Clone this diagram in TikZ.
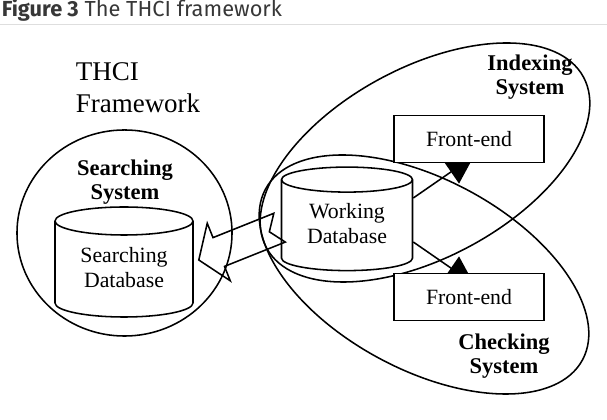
\documentclass[tikz,border=0pt]{standalone}
\usepackage{fontspec}
\setmainfont{Liberation Serif}
\newfontfamily\capfont{Fira Sans}
\usetikzlibrary{arrows.meta,positioning,shapes.geometric,calc}
\definecolor{thciRule}{RGB}{222,222,222}
\definecolor{thciCaption}{RGB}{55,55,55}

\begin{document}
\begin{tikzpicture}[
  x=0.025cm, y=0.025cm,
  line width=1.1pt,
  sysbound/.style={draw, ellipse, inner sep=0pt},
  syslabel/.style={align=center, inner sep=0pt, font=\fontsize{16}{17}\selectfont\bfseries},
  dblabel/.style={align=center, inner sep=0pt, font=\fontsize{15.5}{17.8}\selectfont},
  frontbox/.style={
    draw,
    fill=white,
    minimum width=3.75cm,
    minimum height=1.175cm,
    inner sep=0pt,
    font=\fontsize{15.5}{17.8}\selectfont
  },
  feed/.style={-{Triangle[length=0.7cm,width=0.7cm]}}
]
  \useasboundingbox (0,0) rectangle (607,420);

  % caption and rule
  \node[anchor=base west, inner sep=0pt, text=thciCaption,
        font=\capfont\fontsize{15.5}{18}\selectfont] (caption) at (1,403)
        {\textbf{Figure 3} The THCI framework};
  \draw[thciRule, line width=1pt] (0,395.5) -- (607,395.5);

  \node[anchor=west, align=left, inner sep=0pt,
        font=\fontsize{19.2}{22.8}\selectfont] (title) at (75,332) {THCI\\Framework};

  % the three systems
  \node[sysbound, minimum width=5.375cm, minimum height=5.15cm] (srchsys) at (124.5,187) {};
  \node[sysbound, minimum width=9cm, minimum height=4.75cm, rotate=28.3] (idxsys) at (425,257.5) {};
  \node[sysbound, minimum width=9cm, minimum height=4.75cm, rotate=-28.3] (chksys) at (424,145.5) {};

  % databases
  \coordinate (srchc) at (124,152);
  \draw[fill=white] ($(srchc)+(-69,47)$) -- ++(0,-82)
    arc[start angle=180, end angle=360, x radius=69, y radius=14] -- ++(0,82)
    arc[start angle=0, end angle=180, x radius=69, y radius=14] -- cycle;
  \draw ($(srchc)+(-69,47)$) arc[start angle=180, end angle=360, x radius=69, y radius=14];
  \node[dblabel, minimum width=3.45cm] (srchdb) at (srchc) {Searching\\Database};

  \coordinate (workc) at (347,196.4);
  \draw[fill=white] ($(workc)+(-65.5,44)$) -- ++(0,-78.5)
    arc[start angle=180, end angle=360, x radius=65.5, y radius=12.5] -- ++(0,78.5)
    arc[start angle=0, end angle=180, x radius=65.5, y radius=12.5] -- cycle;
  \draw ($(workc)+(-65.5,44)$) arc[start angle=180, end angle=360, x radius=65.5, y radius=12.5];
  \node[dblabel, minimum width=3.275cm] (workdb) at (workc) {Working\\Database};

  \node[syslabel] (srchlbl) at (125,238) {Searching\\System};
  \node[syslabel] (idxlbl) at (530,342.6) {Indexing\\System};
  \node[syslabel] (chklbl) at (504,64.1) {Checking\\System};

  % copy to the searching database
  \begin{scope}[shift={($(srchdb.east)+(5,8)$)}, rotate=21.8]
    \draw[line join=miter] (0,0) -- (21.5,31) -- (21.5,15.5) -- (87,15.5) -- (76,0)
      -- (87,-15.5) -- (21.5,-15.5) -- (21.5,-31) -- cycle;
  \end{scope}

  \coordinate (idxin) at (474,264);
  \coordinate (chkin) at (474,136);
  \draw[feed] ($(workdb.east)+(0,25.6)$) -- (idxin);
  \draw[feed] ($(workdb.east)+(0,-18.4)$) -- (chkin);

  \node[frontbox] (feidx) at (469,281) {Front-end};
  \node[frontbox] (fechk) at (469,123) {Front-end};
\end{tikzpicture}
\end{document}
